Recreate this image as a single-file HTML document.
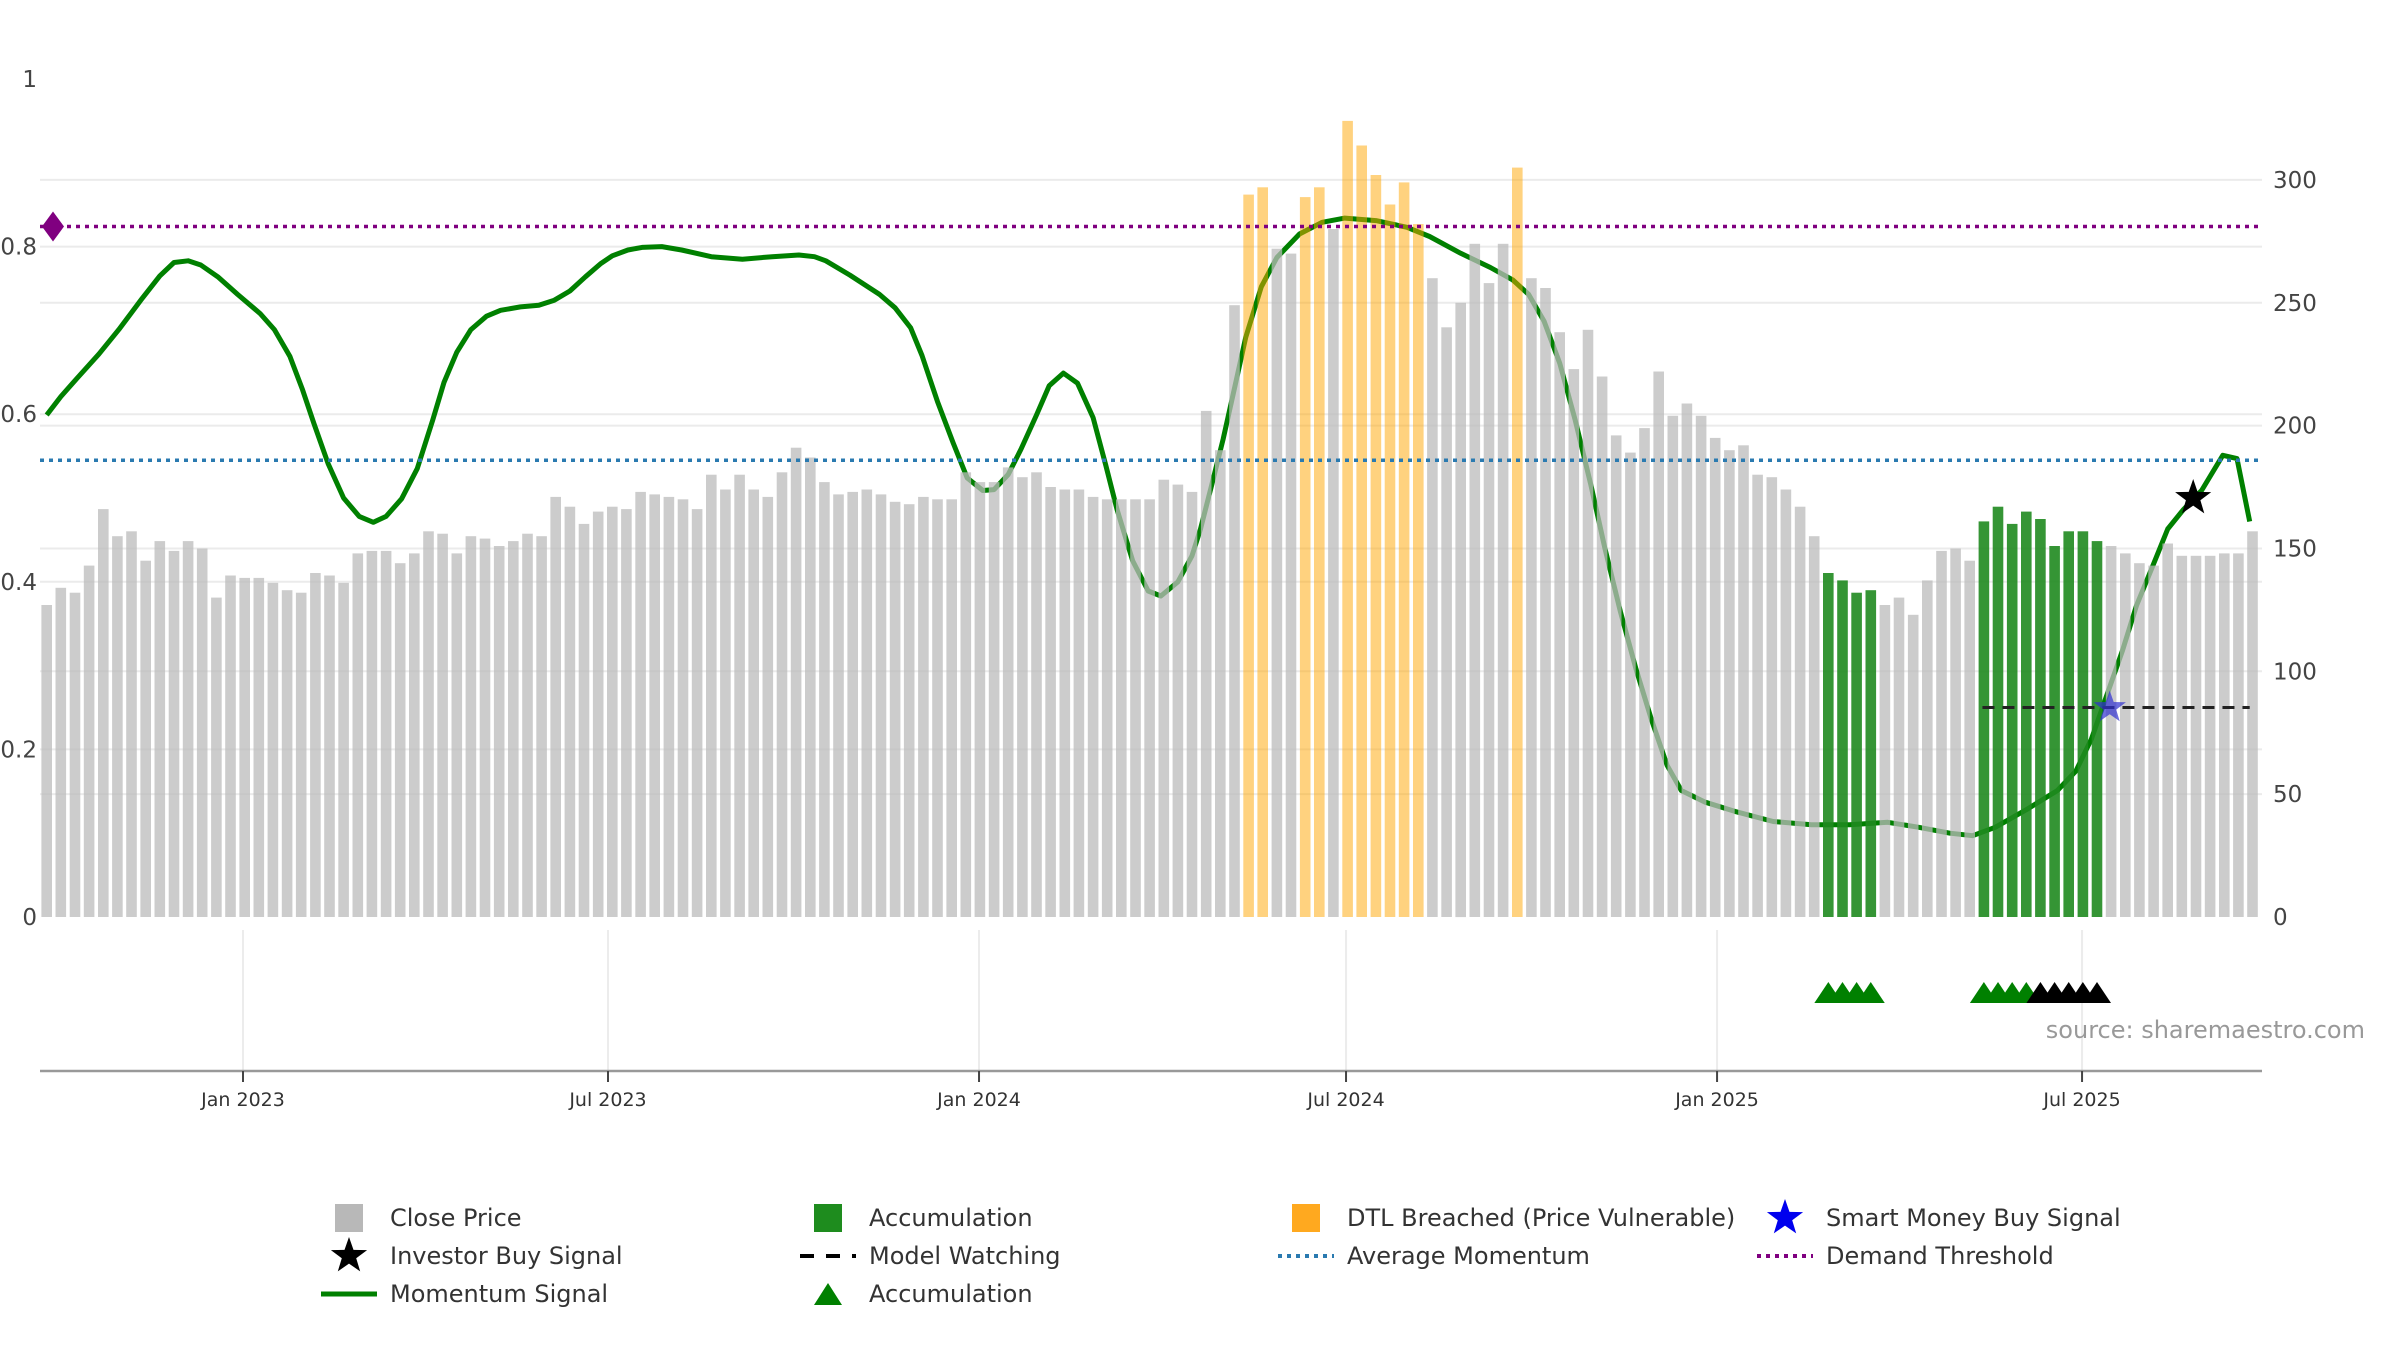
<!DOCTYPE html>
<html><head><meta charset="utf-8"><style>
html,body{margin:0;padding:0;background:#fff;}
svg{display:block;font-family:"DejaVu Sans","Liberation Sans",sans-serif;}
</style></head><body>
<svg id="chart" width="2400" height="1350" viewBox="0 0 2400 1350" xmlns="http://www.w3.org/2000/svg">
<g id="grid"></g>
<g id="lines"></g>
<g id="bars"></g>
<g id="overlay"></g>
<g id="axes"></g>
<text x="2365" y="1038" text-anchor="end" font-size="24" fill="#999">source: sharemaestro.com</text>
<g id="legend"></g>
</svg>
<script>
const closePrices = [127,134,132,143,166,155,157,145,153,149,153,150,130,139,138,138,136,133,132,140,139,136,148,149,149,144,148,157,156,148,155,154,151,153,156,155,171,167,160,165,167,166,173,172,171,170,166,180,174,180,174,171,181,191,187,177,172,173,174,172,169,168,171,170,170,181,177,177,183,179,181,175,174,174,171,170,170,170,170,178,176,173,
206,190,249,294,297,272,270,293,297,280,324,314,302,290,299,282,260,240,250,274,258,274,305,260,256,238,223,239,220,196,189,199,222,204,209,204,195,190,192,180,179,174,167,155,140,137,132,133,127,130,123,137,149,150,145,161,167,160,165,162,151,157,157,153,151,148,144,143,152,147,147,147,148,148,157];
const dtlWeeks = [85,86,89,90,92,93,94,95,96,97,104];
const accumWeeks = [126,127,128,129,137,138,139,140,141,142,143,144,145];
const momentumWeek = [0,1.0,2.1,3.7,5.1,6.7,8.0,9.0,10.0,10.9,12.1,13.5,15.1,16.1,17.2,18.1,18.9,19.9,21.0,22.1,23.1,24.0,25.1,26.2,27.3,28.1,29.0,30.0,31.1,32.1,33.5,34.8,35.9,37.0,38.1,39.2,40.0,41.1,42.1,43.5,44.9,47.0,49.2,51.3,53.2,54.3,55.1,56.8,58.9,60.0,61.1,61.9,63.0,64.1,65.1,66.2,67.0,68.0,68.9,70.0,70.9,71.9,72.9,74.0,74.9,75.7,76.8,77.9,78.8,80.0,81.0,81.6,82.4,83.2,84.0,84.8,85.9,87.0,88.6,90.2,91.8,94.0,96.2,97.8,100.0,102.1,103.7,104.8,105.9,107.0,108.1,109.2,110.2,111.3,112.4,113.5,114.6,115.6,117.3,119.4,122.1,124.8,127.5,130.2,132.4,134.6,136.2,137.8,140.0,142.2,143.5,144.6,145.7,146.8,147.8,148.9,150.0,151.1,152.4,153.9,154.9,155.8];
const momentumValue = [0.599,0.621,0.642,0.672,0.701,0.737,0.765,0.781,0.783,0.778,0.764,0.743,0.720,0.701,0.669,0.629,0.589,0.541,0.500,0.478,0.471,0.478,0.499,0.535,0.593,0.638,0.674,0.701,0.717,0.724,0.728,0.730,0.736,0.747,0.764,0.780,0.789,0.796,0.799,0.800,0.796,0.788,0.785,0.788,0.790,0.788,0.783,0.766,0.743,0.727,0.703,0.670,0.615,0.566,0.524,0.509,0.510,0.528,0.558,0.599,0.634,0.649,0.637,0.596,0.539,0.486,0.425,0.389,0.383,0.400,0.431,0.463,0.516,0.570,0.631,0.692,0.752,0.787,0.815,0.829,0.834,0.831,0.823,0.812,0.792,0.775,0.760,0.743,0.711,0.661,0.593,0.516,0.440,0.364,0.296,0.235,0.181,0.151,0.137,0.126,0.114,0.110,0.110,0.113,0.107,0.100,0.097,0.107,0.128,0.151,0.174,0.212,0.265,0.318,0.372,0.417,0.463,0.486,0.509,0.551,0.547,0.472];
const demandThreshold = 0.824;
const avgMomentum = 0.545;
const greenTriWeeks = [126,127,128,129,137,138,139,140];
const blackTriWeeks = [141,142,143,144,145];
const investorStarWeek = [151.8], investorStarValue = [0.50];
const smartStarWeek = [145.9], smartStarValue = [0.25];
const watchStartWeek = 136.9, watchEndWeek = 155.8, watchValue = 0.25;
const leftTicks = [0,0.2,0.4,0.6,0.8,1];
const leftTickLabels = ["0","0.2","0.4","0.6","0.8","1"];
const rightTicks = [0,50,100,150,200,250,300];
const dateTicks = ["2023-01-01","2023-07-01","2024-01-01","2024-07-01","2025-01-01","2025-07-01"];
const dateTickLabels = ["Jan 2023","Jul 2023","Jan 2024","Jul 2024","Jan 2025","Jul 2025"];

const NS="http://www.w3.org/2000/svg";
const X0=40, X1=2262, Y0=917, AXY=1071;
function wx(i){return 46.7+i*14.14;}
function yl(v){return Y0-v*838;}
function yr(v){return Y0-v*2.457;}
function dx(s){const d=(Date.parse(s)-Date.parse("2023-01-01"))/86400000;return 243+d*2.0165;}
function mk(tag,attrs,parent){const e=document.createElementNS(NS,tag);for(const k in attrs)e.setAttribute(k,attrs[k]);parent.appendChild(e);return e;}
const G=id=>document.getElementById(id);

const grid=G('grid');
leftTicks.forEach(v=>{ if(v>0&&v<1){const l=mk('line',{x1:X0,x2:X1,y1:yl(v),y2:yl(v),stroke:'#ebebeb','stroke-width':2},grid);

}});
rightTicks.forEach(v=>{ if(v>0){const l=mk('line',{x1:X0,x2:X1,y1:yr(v),y2:yr(v),stroke:'#ebebeb','stroke-width':2},grid);

}});
dateTicks.forEach(d=>{const l=mk('line',{x1:dx(d),x2:dx(d),y1:930,y2:AXY,stroke:'#ececec','stroke-width':2},grid);

});

const lines=G('lines');
let pd=momentumWeek.map((w,i)=>(i?'L':'M')+wx(w).toFixed(1)+','+yl(momentumValue[i]).toFixed(1)).join(' ');
const ml=mk('path',{d:pd,fill:'none',stroke:'#008000','stroke-width':5,'stroke-linejoin':'round'},lines);



const bars=G('bars');
closePrices.forEach((v,i)=>{
  let fill='#bbbbbb',op=0.75,name='close-price-bar';
  if(dtlWeeks.includes(i)){fill='#ffa500';op=0.5;name='dtl-breached-bar';}
  if(accumWeeks.includes(i)){fill='#1f8a1f';op=0.9;name='accumulation-bar';}
  const r=mk('rect',{x:(wx(i)-5.3).toFixed(1),y:yr(v).toFixed(1),width:10.6,height:(Y0-yr(v)).toFixed(1),fill:fill,'fill-opacity':op},bars);
  
  
});

const ov=G('overlay');
const dt=mk('line',{x1:X0,x2:X1,y1:yl(demandThreshold),y2:yl(demandThreshold),stroke:'#800080','stroke-width':3.5,'stroke-dasharray':'4 5'},ov);


const dm=mk('path',{d:`M${X0+2},${yl(demandThreshold)} l11,-15 l11,15 l-11,15 z`,fill:'#800080'},ov);


const am=mk('line',{x1:X0,x2:X1,y1:yl(avgMomentum),y2:yl(avgMomentum),stroke:'#2a7ab0','stroke-width':3.5,'stroke-dasharray':'4 5'},ov);


const mw=mk('line',{x1:wx(watchStartWeek),x2:wx(watchEndWeek),y1:yl(watchValue),y2:yl(watchValue),stroke:'#222','stroke-width':3,'stroke-dasharray':'12 8'},ov);


function star(cx,cy,R,fill,op,parent){const pts=[];for(let k=0;k<10;k++){const r=k%2?R*0.4:R;const a=-Math.PI/2+k*Math.PI/5;pts.push((cx+r*Math.cos(a)).toFixed(1)+','+(cy+r*Math.sin(a)).toFixed(1));}
return mk('polygon',{points:pts.join(' '),fill:fill,'fill-opacity':op},parent);}
smartStarWeek.forEach((w,i)=>{const s=star(wx(w),yl(smartStarValue[i]),17,'#3030d0',0.7,ov);

});
investorStarWeek.forEach((w,i)=>{const s=star(wx(w),yl(investorStarValue[i]),19,'#000',1,ov);

});
function tri(cx,fill){return mk('path',{d:`M${cx-14},1003 L${cx},982 L${cx+14},1003 Z`,fill:fill},ov);}
greenTriWeeks.forEach(w=>{const t=tri(wx(w),'#008000');

});
blackTriWeeks.forEach(w=>{const t=tri(wx(w),'#000');

});

const ax=G('axes');
leftTicks.forEach((v,i)=>{const t=mk('text',{x:37,y:yl(v)+8,'text-anchor':'end','font-size':23,fill:'#444'},ax);t.textContent=leftTickLabels[i];

});
rightTicks.forEach(v=>{const t=mk('text',{x:2273,y:yr(v)+8,'font-size':23,fill:'#444'},ax);t.textContent=String(v);

});
const xl=mk('line',{x1:X0,x2:X1,y1:AXY,y2:AXY,stroke:'#999','stroke-width':2.5},ax);


dateTicks.forEach((d,i)=>{const x=dx(d);
const tk=mk('line',{x1:x,x2:x,y1:AXY,y2:AXY+11,stroke:'#444','stroke-width':2},ax);


const t=mk('text',{x:x,y:1106,'text-anchor':'middle','font-size':19,fill:'#333'},ax);t.textContent=dateTickLabels[i];

});

const lg=G('legend');
const rows=[1218,1256,1294], cols=[349,828,1306,1785];
function ltext(c,r,s){const t=mk('text',{x:cols[c]+41,y:rows[r]+8,'font-size':24,fill:'#333'},lg);t.textContent=s;

}
function lrect(c,r,f){const e=mk('rect',{x:cols[c]-14,y:rows[r]-14,width:28,height:28,fill:f},lg);

}
function lline(c,r,col,dash,w){const e=mk('line',{x1:cols[c]-28,x2:cols[c]+28,y1:rows[r],y2:rows[r],stroke:col,'stroke-width':w,'stroke-dasharray':dash},lg);

}
lrect(0,0,'#b8b8b8');ltext(0,0,'Close Price');
let s1=star(cols[0],rows[1],19,'#000',1,lg);


ltext(0,1,'Investor Buy Signal');
lline(0,2,'#008000','none',5);ltext(0,2,'Momentum Signal');
lrect(1,0,'#1e8c1e');ltext(1,0,'Accumulation');
lline(1,1,'#000','14 12',4);ltext(1,1,'Model Watching');
let t1=mk('path',{d:`M${cols[1]-14},${rows[2]+11} L${cols[1]},${rows[2]-11} L${cols[1]+14},${rows[2]+11} Z`,fill:'#008000'},lg);


ltext(1,2,'Accumulation');
lrect(2,0,'#ffa91f');ltext(2,0,'DTL Breached (Price Vulnerable)');
lline(2,1,'#2a7ab0','4 5',4);ltext(2,1,'Average Momentum');
let s2=star(cols[3],rows[0],19,'#0000ee',1,lg);


ltext(3,0,'Smart Money Buy Signal');
lline(3,1,'#800080','4 5',4);ltext(3,1,'Demand Threshold');
</script>
</body></html>
